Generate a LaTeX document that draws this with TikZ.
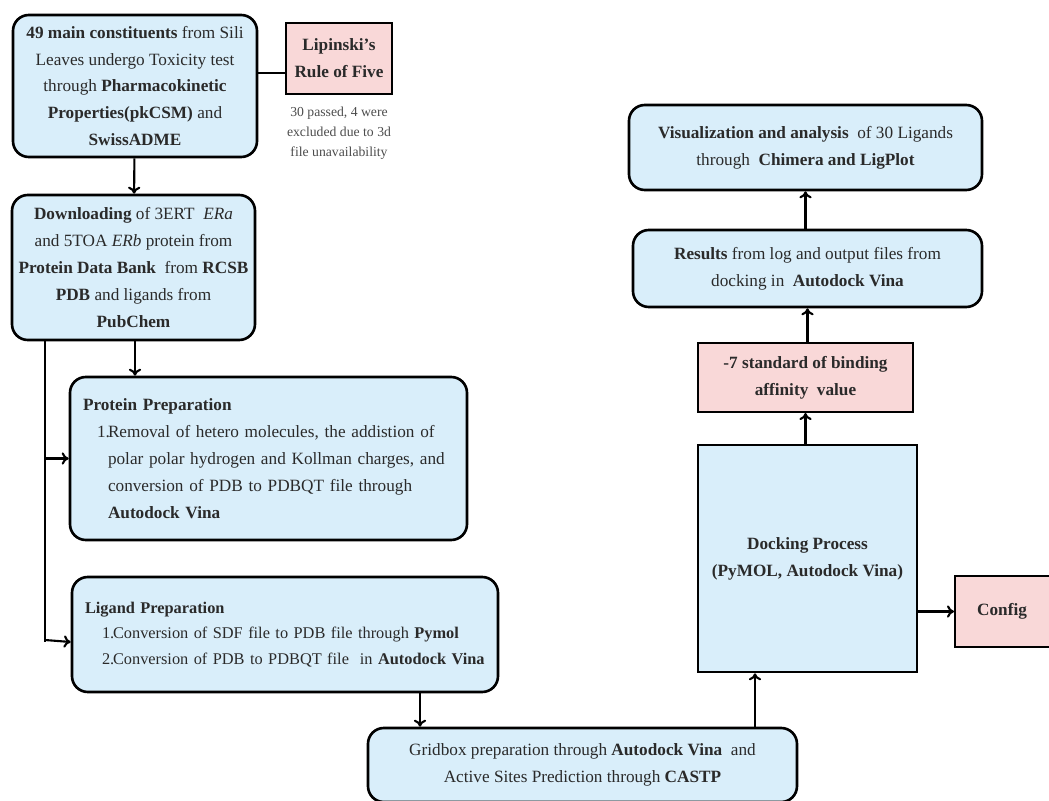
\documentclass[tikz,border=0pt]{standalone}
\usepackage{fontspec}
\setmainfont{Liberation Serif}
\usepackage{xcolor}
\usetikzlibrary{calc}
\usetikzlibrary{positioning}
\usetikzlibrary{arrows.meta}

\newdimen\px
\px=0.02cm

\definecolor{boxblue}{HTML}{D9EEFA}
\definecolor{boxpink}{HTML}{F9D8D8}
\definecolor{inktext}{HTML}{2A2A2A}

\tikzset{
  bluebox/.style={draw=black, fill=boxblue, line width=1.5pt, rounded corners=9pt,
    align=center, inner sep=0pt, text=inktext, font=\fontsize{9.8}{15.3}\selectfont},
  squarebox/.style={bluebox, rounded corners=0pt},
  pinkbox/.style={draw=black, fill=boxpink, line width=1.2pt, align=center,
    inner sep=0pt, text=inktext, font=\fontsize{9.8}{15.3}\selectfont},
  flow/.style={-{To[length=4pt,width=7pt]}, line width=1.2pt}
}

\begin{document}
\begin{tikzpicture}[x=0.02cm, y=-0.02cm]
\useasboundingbox (0,0) rectangle (1049,801);

\node[bluebox, minimum width=244\px, minimum height=142\px] (cons) at (135,86)
  {\textbf{49 main constituents} from Sili\\Leaves undergo Toxicity test\\through \textbf{Pharmacokinetic}\\\textbf{Properties(pkCSM)} and\\\textbf{SwissADME}};
\node[pinkbox, minimum width=106\px, minimum height=71\px] (lipinski) at (339,58.5)
  {\textbf{Lipinski's}\\\textbf{Rule of Five}};
\node[align=center, text=black!70, font=\fontsize{7.8}{11.3}\selectfont] (passnote) at (339,133)
  {30 passed, 4 were\\excluded due to 3d\\file unavailability};

\node[bluebox, minimum width=243\px, minimum height=145\px] (download) at (133.5,267.5)
  {\textbf{Downloading} of 3ERT~ \textit{ERa}\\and 5TOA \textit{ERb} protein from\\\textbf{Protein Data Bank}~ from \textbf{RCSB}\\\textbf{PDB} and ligands from\\\textbf{PubChem}};

\node[bluebox, align=left, text width=371\px, minimum height=163\px, inner xsep=13\px] (protein) at (268.5,458.5)
  {\textbf{Protein Preparation}\\
   \hspace*{14\px}\makebox[11\px][l]{1.}Removal of hetero molecules, the addistion of\\
   \hspace*{25\px}polar polar hydrogen and Kollman charges, and\\
   \hspace*{25\px}conversion of PDB to PDBQT file through\\
   \hspace*{25\px}\textbf{Autodock Vina}};

\node[bluebox, align=left, text width=400\px, minimum height=115\px, inner xsep=13\px,
  font=\fontsize{9.3}{14.5}\selectfont] (ligand) at (285,634.5)
  {\textbf{Ligand Preparation}\\
   \mbox{\hspace*{17\px}\makebox[11\px][l]{1.}Conversion of SDF file to PDB file through \textbf{Pymol}}\\
   \mbox{\hspace*{17\px}\makebox[11\px][l]{2.}Conversion of PDB to PDBQT file~ in \textbf{Autodock Vina}}};

\node[bluebox, minimum width=429\px, minimum height=74\px] (gridbox) at (582.5,765)
  {Gridbox preparation through \textbf{Autodock Vina}~ and\\Active Sites Prediction through \textbf{CASTP}};

\node[squarebox, minimum width=219\px, minimum height=227\px] (docking) at (807.5,558.5)
  {\textbf{Docking Process}\\\textbf{(PyMOL, Autodock Vina)}};
\node[pinkbox, minimum width=100\px, minimum height=71\px, anchor=west] (config) at (954,611.5)
  {\textbf{Config}\hspace*{6\px}};
\node[pinkbox, minimum width=215\px, minimum height=69\px] (binding) at (805.5,377.5)
  {\textbf{-7 standard of binding}\\\textbf{affinity~ value}};
\node[bluebox, minimum width=349\px, minimum height=77\px] (results) at (807.5,268.5)
  {\textbf{Results} from log and output files from\\docking in~ \textbf{Autodock Vina}};
\node[bluebox, minimum width=353\px, minimum height=85\px] (visual) at (805.5,147.5)
  {\textbf{Visualization and analysis}~ of 30 Ligands\\through~ \textbf{Chimera and LigPlot}};

\coordinate (lipjoin) at (286,73);
\coordinate (trunk) at (45,340);
\coordinate (ligout) at (420,692);
\coordinate (gridout) at (755,728);

\draw[line width=1.2pt] (cons.east |- lipjoin) -- (lipjoin);
\draw[flow] (cons) -- (download);
\draw[flow] (download.south -| cons) -- (protein.north -| cons);
\draw[line width=1.2pt] (trunk) -- ($(trunk)+(0,302)$);
\draw[flow] (trunk |- protein) -- (protein.west);
\draw[flow] ($(trunk)+(0,300)$) -- ($(ligand.west)+(0,7.5)$);
\draw[flow] (ligout) -- (gridbox.north -| ligout);
\draw[flow] (gridout) -- (docking.south -| gridout);
\draw[flow] (docking.east |- config) -- (config.west);
\draw[flow] (docking.north -| binding) -- (binding.south);
\draw[flow] (binding.north -| results) -- (results.south);
\draw[flow] (results.north -| visual) -- (visual.south);

\end{tikzpicture}
\end{document}
